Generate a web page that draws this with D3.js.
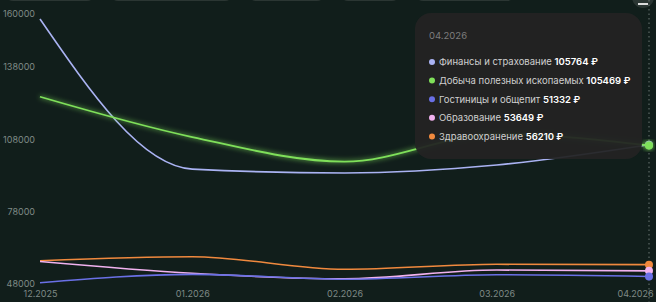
<!DOCTYPE html>
<html>
<head>
<meta charset="utf-8">
<script src="https://cdn.jsdelivr.net/npm/d3@7"></script>
<style>
    html, body { margin: 0; padding: 0; background: #111e1b; overflow: hidden; }
    #chart { width: 656px; height: 302px; }
    text { font-family: "Inter", "Noto Sans", sans-serif; }
</style>
</head>
<body>
<div id="chart"></div>
<script>
/******************************************************
 * Salary by industry – line chart with tooltip
*******************************************************/

//! DATA
const months = ["12.2025", "01.2026", "02.2026", "03.2026", "04.2026"];
const seriesNames = [
    "Финансы и страхование",
    "Добыча полезных ископаемых",
    "Гостиницы и общепит",
    "Образование",
    "Здравоохранение"
];
const finance   = [157700, 95700, 94100, 97400, 105764];
const mining    = [125600, 108950, 98800, 110200, 105469];
const hotels    = [48740, 52200, 50190, 52050, 51332];
const education = [57500, 52630, 50350, 53990, 53649];
const health    = [57830, 59490, 54280, 56350, 56210];
const yTicks = [48000, 78000, 108000, 138000, 160000];
const topButtons = [90, 123, 77, 60, 100];

//! CONSTANTS
const WIDTH = 656;
const HEIGHT = 302;
const COLORS = ["#aab3f3", "#7fe05a", "#6a70e6", "#f1b2ef", "#f0893e"];
const MARGIN = { top: 13.5, right: 7, bottom: 17.5, left: 40 };
const AXIS_FONT = 9;
const TIP_FONT = 9.5;

/******************************************************
 * Main draw
*******************************************************/
function draw() {
    const allValues = [finance, mining, hotels, education, health];
    const series = seriesNames.map((name, i) => ({ name: name, color: COLORS[i], values: allValues[i] }));

    const svg = d3.select("#chart").append("svg")
        .attr("width", WIDTH)
        .attr("height", HEIGHT);

    svg.append("rect")
        .attr("width", WIDTH).attr("height", HEIGHT)
        .attr("fill", "#111e1b");

    // glow filter for green line
    const defs = svg.append("defs");
    const glow = defs.append("filter").attr("id", "glow")
        .attr("x", "-20%").attr("y", "-20%").attr("width", "140%").attr("height", "140%");
    glow.append("feGaussianBlur").attr("stdDeviation", 2.5).attr("result", "blur");
    const merge = glow.append("feMerge");
    merge.append("feMergeNode").attr("in", "blur");
    merge.append("feMergeNode").attr("in", "SourceGraphic");

    // top buttons cut off by the frame
    let bx = 5;
    topButtons.forEach(w => {
        svg.append("rect")
            .attr("x", bx).attr("y", -21).attr("width", w).attr("height", 22)
            .attr("rx", 8).attr("fill", "#2b3633");
        bx += w + 15;
    });
    svg.append("circle").attr("cx", 643).attr("cy", -3).attr("r", 11).attr("fill", "#2b3633");
    svg.append("rect").attr("x", 638).attr("y", 3).attr("width", 10).attr("height", 2).attr("fill", "#dcdcdc");

    const x = d3.scalePoint()
        .domain(months)
        .range([MARGIN.left, WIDTH - MARGIN.right]);

    const y = d3.scaleLinear()
        .domain([d3.min(yTicks), d3.max(yTicks)])
        .range([HEIGHT - MARGIN.bottom, MARGIN.top]);

    // Y axis
    const yAxis = svg.append("g")
        .attr("transform", `translate(${MARGIN.left - 5},0)`)
        .call(d3.axisLeft(y).tickValues(yTicks).tickSize(0).tickPadding(0).tickFormat(d3.format("d")));
    yAxis.select(".domain").remove();
    yAxis.selectAll("text")
        .attr("fill", "#7f8a86")
        .attr("font-size", AXIS_FONT)
        .attr("dy", d => d === d3.min(yTicks) ? "0.2em" : "0.32em");

    // X axis
    const xAxis = svg.append("g")
        .attr("transform", `translate(0,${HEIGHT - MARGIN.bottom})`)
        .call(d3.axisBottom(x).tickSize(0).tickPadding(6.5));
    xAxis.select(".domain").remove();
    xAxis.selectAll("text")
        .attr("fill", "#7f8a86")
        .attr("font-size", AXIS_FONT)
        .attr("dy", "0.71em");
    xAxis.selectAll(".tick:last-child text")
        .attr("text-anchor", "end")
        .attr("dx", 4);

    // hover guide
    svg.append("line")
        .attr("x1", x(months[months.length - 1])).attr("x2", x(months[months.length - 1]))
        .attr("y1", 0).attr("y2", HEIGHT)
        .attr("stroke", "#6d7774")
        .attr("stroke-width", 1)
        .attr("stroke-dasharray", "1.5,3");

    const line = d3.line()
        .x((d, i) => x(months[i]))
        .y(d => y(d))
        .curve(d3.curveMonotoneX);

    // draw lower series first, green last
    const order = [4, 3, 2, 0, 1];
    order.forEach(i => {
        const s = series[i];
        svg.append("path")
            .datum(s.values)
            .attr("fill", "none")
            .attr("stroke", s.color)
            .attr("stroke-width", i === 1 ? 1.8 : 1.6)
            .attr("filter", i === 1 ? "url(#glow)" : null)
            .attr("d", line);
    });

    // tooltip box
    const tip = svg.append("g");
    tip.append("rect")
        .attr("x", 415).attr("y", 13)
        .attr("width", 227).attr("height", 146)
        .attr("rx", 16)
        .attr("fill", "#232323")
        .attr("fill-opacity", 0.94);
    tip.append("text")
        .attr("x", 429).attr("y", 36)
        .attr("dy", "0.35em")
        .attr("fill", "#7d7d7d")
        .attr("font-size", TIP_FONT)
        .text(months[months.length - 1]);

    series.forEach((s, i) => {
        const ty = 62 + i * 18.6;
        tip.append("circle")
            .attr("cx", 432).attr("cy", ty)
            .attr("r", 3)
            .attr("fill", s.color);
        const t = tip.append("text")
            .attr("x", 439).attr("y", ty)
            .attr("dy", "0.35em")
            .attr("font-size", TIP_FONT);
        t.append("tspan").attr("fill", "#cfcfcf").text(s.name + " ");
        t.append("tspan").attr("fill", "#ffffff").attr("font-weight", 600)
            .text(s.values[s.values.length - 1] + " ₽");
    });

    // end markers
    order.forEach(i => {
        const s = series[i];
        svg.append("circle")
            .attr("cx", x(months[months.length - 1]))
            .attr("cy", y(s.values[s.values.length - 1]))
            .attr("r", 4)
            .attr("fill", s.color)
            .attr("filter", i === 1 ? "url(#glow)" : null);
    });
}

draw();
</script>
</body>
</html>
